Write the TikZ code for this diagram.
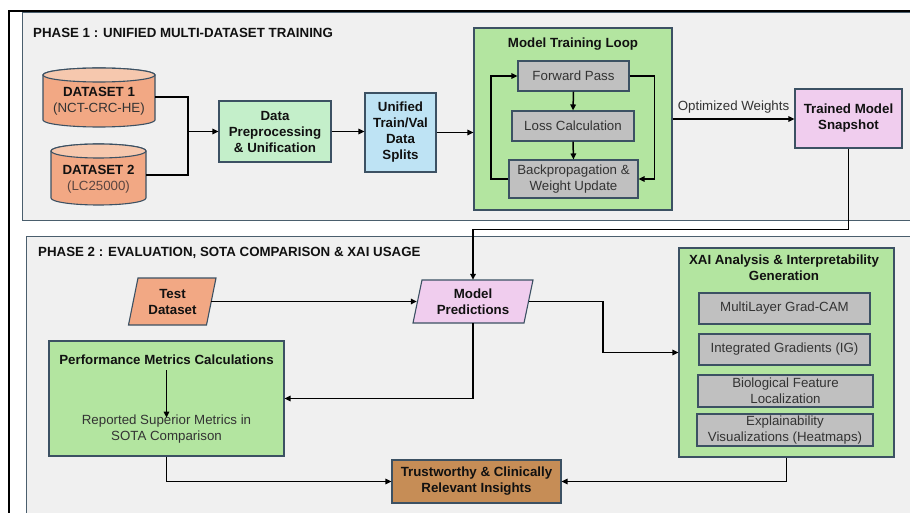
\documentclass[tikz,border=0pt]{standalone}
\usepackage{fontspec}
\setmainfont{Liberation Sans}
\usetikzlibrary{arrows.meta}
\definecolor{panelfill}{HTML}{F0F0F0}
\definecolor{panelline}{HTML}{4A5E6D}
\definecolor{boxline}{HTML}{3C5163}
\definecolor{greenbox}{HTML}{B3E5A0}
\definecolor{greenlight}{HTML}{C4EFCA}
\definecolor{bluebox}{HTML}{BEE3F4}
\definecolor{pinkbox}{HTML}{F0CDEE}
\definecolor{salmon}{HTML}{F2A884}
\definecolor{salmontop}{HTML}{F6C8AE}
\definecolor{brownbox}{HTML}{C68D56}
\definecolor{graybox}{HTML}{C0C0C0}
\definecolor{txtdark}{HTML}{111111}
\definecolor{txtgray}{HTML}{333333}
\definecolor{txtlight}{HTML}{5A4540}
\begin{document}
\begin{tikzpicture}[x=1pt,y=-1pt,
  every node/.style={font=\fontsize{13.3}{16}\selectfont},
  box/.style={draw=boxline, line width=1.1pt, inner sep=0pt, align=center, text=txtdark},
  boldtxt/.style={font=\fontsize{13.3}{16}\selectfont\bfseries},
  conn/.style={draw=black, line width=1.5pt},
  arr/.style={conn, -{Triangle[length=6pt,width=5.5pt]}},
  panel/.style={fill=panelfill, draw=panelline, line width=1pt},
  txt/.style={inner sep=0pt, align=center, text=txtdark},
  shapeline/.style={draw=boxline, line width=1.1pt}
]
\path[use as bounding box, clip] (0,0) rectangle (910,513);
\fill[white] (0,0) rectangle (910,513);

% panels
\path[panel] (22,13) rectangle (918,221);
\path[panel] (26,236) rectangle (918,520);
\draw[line width=1.8pt, black] (9,520) -- (9,11) -- (918,11);

% titles
\node[txt, boldtxt, anchor=west] (ph1) at (33,33) {PHASE 1 : UNIFIED MULTI-DATASET TRAINING};
\node[txt, boldtxt, anchor=west] (ph2) at (38,253) {PHASE 2 : EVALUATION, SOTA COMPARISON \& XAI USAGE};

% dataset 1 cylinder
\path[fill=salmon, shapeline] (43,75) -- (43,120) arc[start angle=180, end angle=360, x radius=56pt, y radius=7pt] -- (155,75) arc[start angle=0, end angle=180, x radius=56pt, y radius=7pt] -- cycle;
\path[fill=salmontop, shapeline] (99,75) ellipse[x radius=56pt, y radius=7pt];
\node[inner sep=0pt, minimum width=112pt, minimum height=45pt] (d1) at (99,97) {};
\node[txt] (d1t) at (99,101.5) {\bfseries DATASET 1\\\color{txtgray}(NCT-CRC-HE)};

% dataset 2 cylinder
\path[fill=salmon, shapeline] (51,151) -- (51,198) arc[start angle=180, end angle=360, x radius=47.5pt, y radius=7pt] -- (146,151) arc[start angle=0, end angle=180, x radius=47.5pt, y radius=7pt] -- cycle;
\path[fill=salmontop, shapeline] (98.5,151) ellipse[x radius=47.5pt, y radius=7pt];
\node[inner sep=0pt, minimum width=95pt, minimum height=45pt] (d2) at (98.5,175) {};
\node[txt] (d2t) at (98.5,179.5) {\bfseries DATASET 2\\\color{txtlight}(LC25000)};

% phase 1 boxes
\node[box, boldtxt, fill=greenlight, minimum width=112pt, minimum height=61pt] (prep) at (275,131.5) {Data\\Preprocessing\\\& Unification};
\node[box, boldtxt, fill=bluebox, minimum width=71pt, minimum height=79pt] (uni) at (400.5,132.5) {Unified\\Train/Val\\Data\\Splits};
\node[box, fill=greenbox, minimum width=198pt, minimum height=182pt] (loop) at (573,119) {};
\node[txt, boldtxt] (looptitle) at (573,44) {Model Training Loop};
\node[box, fill=graybox, text=txtgray, minimum width=111pt, minimum height=30pt] (fp) at (573.5,76) {Forward Pass};
\node[box, fill=graybox, text=txtgray, minimum width=122pt, minimum height=30pt] (loss) at (573,126) {Loss Calculation};
\node[box, fill=graybox, text=txtgray, minimum width=129pt, minimum height=38pt] (bp) at (573.5,179) {Backpropagation \&\\Weight Update};
\node[box, boldtxt, fill=pinkbox, minimum width=107pt, minimum height=59pt] (snap) at (848.5,118.5) {Trained Model\\Snapshot};

% phase 1 connectors
\coordinate (j) at (188,131.5);
\draw[conn] (d1.east) -| (j);
\draw[conn] (d2.east) -| (j);
\draw[arr] (j) -- (prep.west);
\draw[arr] (prep.east) -- (prep.east -| uni.west);
\draw[arr] (uni.east) -- (uni.east -| loop.west);
\draw[arr] (fp.south) -- (loss.north);
\draw[arr] (loss.south) -- (bp.north);
\draw[arr] (bp.west) -- ++(-17.5,0) |- (fp.west);
\draw[arr] (fp.east) -- ++(25,0) |- (bp.east);
\draw[arr] (loop.east) -- (loop.east -| snap.west) node[midway, above=5pt, txt, text=txtgray] (ow) {Optimized Weights};

% phase 2 shapes
\path[fill=salmon, shapeline] (128.5,325) -- (138,278) -- (216,278) -- (206.5,325) -- cycle;
\node[txt, boldtxt, minimum width=77pt, minimum height=47pt] (test) at (172.5,301.5) {Test\\Dataset};
\path[fill=pinkbox, shapeline] (413,323) -- (422,280) -- (533,280) -- (524,323) -- cycle;
\node[txt, boldtxt, minimum width=112pt, minimum height=43pt] (pred) at (473,301.5) {Model\\Predictions};

\node[box, fill=greenbox, minimum width=235pt, minimum height=115pt] (perf) at (166.5,398.5) {};
\node[txt, boldtxt] (perft) at (166.5,360) {Performance Metrics Calculations};
\node[txt, text=txtgray] (perfr) at (166.5,429) {Reported Superior Metrics in\\SOTA Comparison};
\draw[arr, shorten <=5pt] (perft.south) -- ([yshift=-3pt]perfr.north);

\node[box, boldtxt, fill=brownbox, minimum width=169pt, minimum height=43pt] (trust) at (476.5,481.5) {Trustworthy \& Clinically\\Relevant Insights};

\node[box, fill=greenbox, minimum width=215pt, minimum height=209pt] (xai) at (786.5,352.5) {};
\node[txt, boldtxt] (xait) at (784,268) {XAI Analysis \& Interpretability\\Generation};
\node[box, fill=graybox, text=txtgray, minimum width=171pt, minimum height=31pt] (gc) at (784.5,308.5) {MultiLayer Grad-CAM};
\node[box, fill=graybox, text=txtgray, minimum width=171pt, minimum height=31pt] (ig) at (784.5,349.5) {Integrated Gradients (IG)};
\node[box, fill=graybox, text=txtgray, minimum width=175pt, minimum height=32pt] (bio) at (785.5,391) {Biological Feature\\Localization};
\node[box, fill=graybox, text=txtgray, minimum width=176pt, minimum height=32pt] (expl) at (785,430) {Explainability\\Visualizations (Heatmaps)};

% phase 2 connectors
\draw[arr] (snap.south) -- ++(0,81) -| (pred.north);
\draw[arr] (test.east) -- (pred.west);
\draw[arr] (pred.east) -- ++(74,0) |- (xai.west);
\draw[arr] (pred.south) |- (perf.east);
\draw[arr] (perf.south) |- (trust.west);
\draw[arr] (xai.south) |- (trust.east);
\end{tikzpicture}
\end{document}
